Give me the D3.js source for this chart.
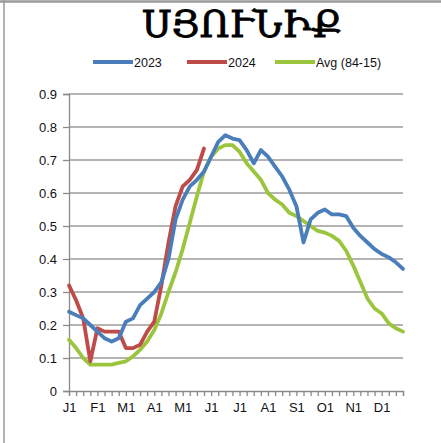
<!DOCTYPE html>
<html>
<head>
<meta charset="utf-8">
<script src="https://cdn.jsdelivr.net/npm/d3@7"></script>
<style>
  body { margin: 0; background: #fff; }
  svg { display: block; }
</style>
</head>
<body>
<svg id="chart" width="441" height="443"></svg>
<script>
// chart values (4 points per month)
const title = "ՍՅՈՒՆԻՔ";
const monthLabels = ["J1", "F1", "M1", "A1", "M1", "J1", "J1", "A1", "S1", "O1", "N1", "D1"];
const yTicks = [0, 0.1, 0.2, 0.3, 0.4, 0.5, 0.6, 0.7, 0.8, 0.9];

const series2023 = [
  0.24, 0.23, 0.22, 0.20, 0.18, 0.16, 0.15, 0.16, 0.21, 0.22, 0.26, 0.28,
  0.30, 0.33, 0.40, 0.52, 0.58, 0.62, 0.64, 0.665, 0.71, 0.755, 0.775, 0.765,
  0.76, 0.73, 0.69, 0.73, 0.71, 0.68, 0.65, 0.61, 0.56, 0.45, 0.52, 0.54,
  0.55, 0.535, 0.535, 0.53, 0.495, 0.47, 0.45, 0.43, 0.415, 0.405, 0.39, 0.37
];
const series2024 = [
  0.32, 0.275, 0.22, 0.09, 0.19, 0.18, 0.18, 0.18, 0.13, 0.13, 0.14, 0.18,
  0.21, 0.32, 0.45, 0.56, 0.62, 0.64, 0.67, 0.735
];
const seriesAvg = [
  0.155, 0.13, 0.10, 0.08, 0.08, 0.08, 0.08, 0.085, 0.09, 0.105, 0.125, 0.15,
  0.185, 0.235, 0.30, 0.36, 0.43, 0.51, 0.59, 0.665, 0.71, 0.735, 0.745, 0.745,
  0.725, 0.69, 0.665, 0.64, 0.60, 0.58, 0.565, 0.54, 0.53, 0.515, 0.50, 0.485,
  0.48, 0.47, 0.455, 0.425, 0.38, 0.33, 0.28, 0.25, 0.235, 0.205, 0.19, 0.18
];

const seriesNames = ["2023", "2024", "Avg (84-15)"];
const seriesColors = ["#4a7ebb", "#be4b48", "#9bc53d"];

const svg = d3.select("#chart");
const W = 441, H = 443;
const plot = { left: 69, right: 403, top: 94, bottom: 391 };
const labelFont = "'Liberation Sans', Arial, sans-serif";

// frame of the picture: top and left edges only
svg.append("line")
    .attr("x1", 0).attr("x2", W).attr("y1", 1.5).attr("y2", 1.5)
    .attr("stroke", "#9a9a9a").attr("stroke-width", 2.5);
svg.append("line")
    .attr("x1", 4).attr("x2", 4).attr("y1", 0).attr("y2", H)
    .attr("stroke", "#9a9a9a").attr("stroke-width", 1.5);

// scales
const x = d3.scaleLinear().domain([0, series2023.length - 1]).range([plot.left, plot.right]);
const y = d3.scaleLinear().domain([0, 0.9]).range([plot.bottom, plot.top]);

// horizontal gridlines
svg.append("g")
    .attr("class", "grid")
  .selectAll("line")
  .data(yTicks.filter(d => d > 0))
  .join("line")
    .attr("x1", plot.left).attr("x2", plot.right)
    .attr("y1", d => y(d)).attr("y2", d => y(d))
    .attr("stroke", "#9b9b9b").attr("stroke-width", 1.5);

// y axis
const yAxis = d3.axisLeft(y)
    .tickValues(yTicks)
    .tickSize(6)
    .tickPadding(6)
    .tickFormat(d => d === 0 ? "0" : d3.format(".1f")(d));
svg.append("g")
    .attr("transform", `translate(${plot.left},0)`)
    .call(yAxis)
    .call(g => g.selectAll("path, line").attr("stroke", "#8a8a8a").attr("stroke-width", 1.3))
    .call(g => g.selectAll("text").attr("font-family", labelFont).attr("font-size", 13).attr("fill", "#111"));

// x axis: a tick at every point, a label at the first point of each month
const xAxis = d3.axisBottom(x)
    .tickValues(d3.range(series2023.length))
    .tickSize(5)
    .tickPadding(7)
    .tickFormat(i => i % 4 === 0 ? monthLabels[i / 4] : "");
svg.append("g")
    .attr("transform", `translate(0,${plot.bottom})`)
    .call(xAxis)
    .call(g => g.selectAll("path, line").attr("stroke", "#8a8a8a").attr("stroke-width", 1.3))
    .call(g => g.selectAll("text").attr("font-family", labelFont).attr("font-size", 13).attr("fill", "#111"));

// series lines
const line = d3.line()
    .x((d, i) => x(i))
    .y(d => y(d))
    .curve(d3.curveLinear);

const allSeries = [seriesAvg, series2024, series2023];
const drawColors = [seriesColors[2], seriesColors[1], seriesColors[0]];
svg.append("g")
  .selectAll("path")
  .data(allSeries)
  .join("path")
    .attr("d", d => line(d))
    .attr("fill", "none")
    .attr("stroke", (d, i) => drawColors[i])
    .attr("stroke-width", 3.8)
    .attr("stroke-linejoin", "round")
    .attr("stroke-linecap", "round");

// title (a thin stroke thickens the glyphs towards the heavier original)
svg.append("text")
    .attr("x", 242).attr("y", 37)
    .attr("text-anchor", "middle")
    .attr("font-family", "'DejaVu Serif', serif")
    .attr("font-size", 37)
    .attr("fill", "#000")
    .attr("stroke", "#000")
    .attr("stroke-width", 0.9)
    .text(title);

// legend
const legendX = [93, 187, 275];
const legend = svg.append("g").attr("class", "legend");
seriesNames.forEach((name, i) => {
  legend.append("line")
      .attr("x1", legendX[i]).attr("x2", legendX[i] + 40)
      .attr("y1", 62).attr("y2", 62)
      .attr("stroke", seriesColors[i]).attr("stroke-width", 3.8);
  legend.append("text")
      .attr("x", legendX[i] + 41).attr("y", 66.5)
      .attr("font-family", labelFont).attr("font-size", 12.5)
      .attr("fill", "#111")
      .text(name);
});
</script>
</body>
</html>
